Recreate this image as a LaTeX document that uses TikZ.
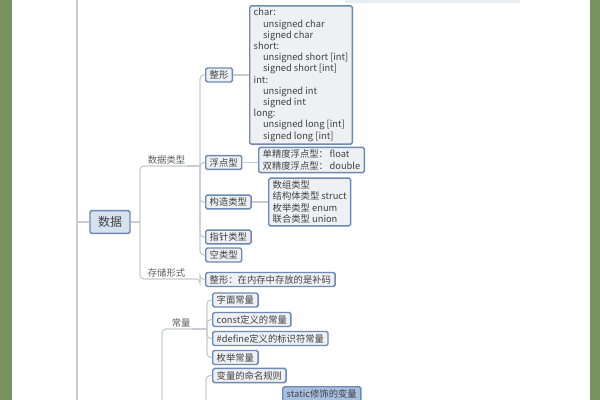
\documentclass[tikz,border=0pt]{standalone}
\usepackage{fontspec}
\newfontfamily\cjk{Noto Sans CJK SC}
\usetikzlibrary{positioning}
\definecolor{barGreen}{RGB}{122,145,96}
\definecolor{boxBlue}{RGB}{108,138,178}
\definecolor{boxFill}{RGB}{238,240,243}
\definecolor{rootFill}{RGB}{214,226,240}
\definecolor{staticFill}{RGB}{168,192,224}
\definecolor{branchGray}{RGB}{200,204,210}
\definecolor{textGray}{RGB}{64,64,64}
\tikzset{every picture/.style={line width=0.75pt}}
\tikzset{
	topic/.style={draw=boxBlue, fill=boxFill, line width=1.1pt, rounded corners=1.2pt, inner xsep=3pt, inner ysep=2pt, text=textGray, font=\cjk\fontsize{7}{8.4}\selectfont, align=left},
	rootTopic/.style={topic, fill=rootFill, font=\cjk\fontsize{9}{10}\selectfont, minimum width=30pt, minimum height=17pt},
	branchLabel/.style={inner sep=1pt, text=textGray!85, font=\cjk\fontsize{7}{8.4}\selectfont},
	branch/.style={draw=branchGray, line width=0.9pt, rounded corners=3pt}
}

\begin{document}
\begin{tikzpicture}[x=0.75pt,y=0.75pt,yscale=-1,xscale=1]
	\useasboundingbox (0,0) rectangle (600,400);
	\clip (0,0) rectangle (600,400);
	\fill[white] (0,0) rectangle (600,400);

	%Shape: Rectangle [side bars]
	\fill[barGreen] (0,0) rectangle (12,400);
	\fill[barGreen] (590,0) rectangle (600,400);
	%Shape: Rectangle [top strip]
	\fill[rootFill!60] (345,0) rectangle (520,2.5);

	% Text Node
	\node[rootTopic] (data) at (110,222) {数据};
	% Text Node
	\node[branchLabel, anchor=south west] (types) at (146,166) {数据类型};
	% Text Node
	\node[branchLabel, anchor=south west] (storage) at (146,279) {存储形式};
	% Text Node
	\node[topic, anchor=west] (intT) at (205,75) {整形};
	% Text Node
	\node[topic, anchor=west] (intList) at (249,75) {char:\\
		\hspace*{7pt}unsigned char\\
		\hspace*{7pt}signed char\\
		short:\\
		\hspace*{7pt}unsigned short [int]\\
		\hspace*{7pt}signed short [int]\\
		int:\\
		\hspace*{7pt}unsigned int\\
		\hspace*{7pt}signed int\\
		long:\\
		\hspace*{7pt}unsigned long [int]\\
		\hspace*{7pt}signed long [int]};
	% Text Node
	\node[topic, anchor=west] (floatT) at (205,162.5) {浮点型};
	% Text Node
	\node[topic, anchor=west] (floatList) at (258,160) {单精度浮点型：\,float\\双精度浮点型：\,double};
	% Text Node
	\node[topic, anchor=west] (structT) at (205,202) {构造类型};
	% Text Node
	\node[topic, anchor=west] (structList) at (268,202) {数组类型\\结构体类型 struct\\枚举类型 enum\\联合类型 union};
	% Text Node
	\node[topic, anchor=west] (ptrT) at (205,237) {指针类型};
	% Text Node
	\node[topic, anchor=west] (voidT) at (205,255) {空类型};
	% Text Node
	\node[topic, anchor=west] (comp) at (205,279.5) {整形：在内存中存放的是补码};
	% Text Node
	\node[branchLabel, anchor=south west] (consts) at (170,329) {常量};
	% Text Node
	\node[topic, anchor=west] (literal) at (212,300) {字面常量};
	% Text Node
	\node[topic, anchor=west] (constDef) at (212,319.5) {const定义的常量};
	% Text Node
	\node[topic, anchor=west] (defineC) at (212,338.5) {\#define定义的标识符常量};
	% Text Node
	\node[topic, anchor=west] (enumC) at (212,357.5) {枚举常量};
	% Text Node
	\node[topic, anchor=west] (rule) at (212,375.5) {变量的命名规则};
	% Text Node
	\node[topic, fill=staticFill, anchor=north west] (staticV) at (282,386) {static修饰的变量\\[4pt]\,};

	%Straight Lines [spine]
	\coordinate (spineTop) at (77,0);
	\coordinate (spineBot) at (77,400);
	\coordinate (spineData) at (77,222);
	\draw[branch] (spineTop) -- (spineBot);
	\draw[branch] (spineData) -- (data.west);
	%Straight Lines [data]
	\coordinate (dataFork) at (140,222);
	\draw[branch] (data.east) -- (dataFork);
	\draw[branch] (dataFork) |- (types.south east);
	\draw[branch] (dataFork) |- (storage.south east);
	%Straight Lines [types]
	\coordinate (typesFork) at (200,166);
	\draw[branch] (types.south east) -- (typesFork);
	\foreach \n in {intT,floatT,structT,ptrT,voidT}
		\draw[branch] (typesFork) |- (\n.west);
	\draw[branch] (intT.east) -- (intList.west);
	\draw[branch] (floatT.east) -- (floatList.west |- floatT.east);
	\draw[branch] (structT.east) -- (structList.west);
	%Straight Lines [storage]
	\coordinate (storeFork) at (200,279);
	\draw[branch] (storage.south east) -- (storeFork) |- (comp.west);
	%Straight Lines [constants]
	\coordinate (midFork) at (162,400);
	\draw[branch] (midFork) |- (consts.south east);
	\coordinate (constFork) at (207,329);
	\draw[branch] (consts.south east) -- (constFork);
	\foreach \n in {literal,constDef,defineC,enumC}
		\draw[branch] (constFork) |- (\n.west);
	%Straight Lines [variables]
	\coordinate (varFork) at (206,400);
	\draw[branch] (varFork) |- (rule.west);

\end{tikzpicture}
\end{document}
